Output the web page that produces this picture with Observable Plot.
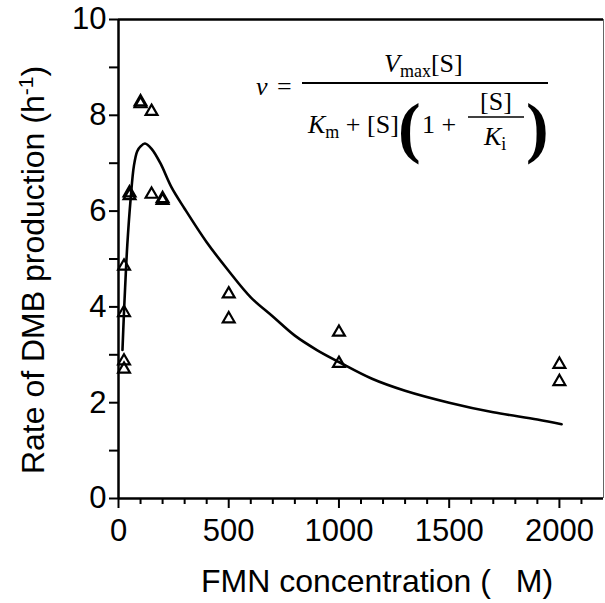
<!DOCTYPE html>
<html><head><meta charset="utf-8">
<script src="https://cdn.jsdelivr.net/npm/d3@7"></script>
<script src="https://cdn.jsdelivr.net/npm/@observablehq/plot@0.6"></script>
<style>
body{margin:0;background:#fff;}
#wrap{position:relative;width:605px;height:603px;overflow:hidden;}
#wrap svg{position:absolute;left:0;top:0;}
</style></head><body><div id="wrap"></div>
<script>
// observed rates (h^-1) vs FMN concentration (uM)
const obsX = [25,25,25,25,50,50,100,100,150,150,200,200,500,500,1000,1000,2000,2000];
const obsY = [2.7,2.87,3.88,4.85,6.32,6.38,8.24,8.28,8.08,6.35,6.22,6.26,4.27,3.75,3.47,2.82,2.8,2.44];
// fitted curve
const fitX = [18,25,30,40,55,70,85,100,120,150,190,240,300,400,500,600,700,800,900,1000,1150,1300,1500,1700,1900,2010];
const fitY = [3.1,3.9,4.4,5.3,6.25,6.95,7.25,7.35,7.41,7.3,7.0,6.5,6.05,5.35,4.75,4.2,3.8,3.4,3.1,2.85,2.5,2.25,2.0,1.8,1.65,1.55];
const xMajor = [0,500,1000,1500,2000];
const xMinor = [100,200,300,400,600,700,800,900,1100,1200,1300,1400,1600,1700,1800,1900,2100];
const yMajor = [0,2,4,6,8,10];
const yMinor = [1,3,5,7,9];
const xLabel = "FMN concentration (\u2002 M)";
const yLabelMain = "Rate of DMB production (h";
const yLabelSup = "-1";

const obs = obsX.map((x,i)=>({x, y:obsY[i]}));
const fit = fitX.map((x,i)=>({x, y:fitY[i]}));

const chart = Plot.plot({
  width:605, height:603,
  marginLeft:118, marginRight:2, marginTop:19, marginBottom:105,
  x:{domain:[0,2200]},
  y:{domain:[0,10]},
  style:{fontFamily:"'Liberation Sans', Arial, sans-serif", fontSize:"31px", color:"#000", background:"#fff", overflow:"visible"},
  marks:[
    Plot.axisX(xMajor,{tickSize:10, tickPadding:10, strokeWidth:2, tickFormat:d=>String(d), label:null, fontSize:31}),
    Plot.axisX(xMinor,{tickSize:6, strokeWidth:2, text:null, label:null}),
    Plot.axisY(yMajor,{tickSize:9, tickPadding:3, strokeWidth:2, tickFormat:d=>String(d), label:null, fontSize:31}),
    Plot.axisY(yMinor,{tickSize:9, strokeWidth:2, text:null, label:null}),
    Plot.ruleY([10],{stroke:"#000", strokeWidth:2.5}),
    Plot.ruleX([2200],{stroke:"#666", strokeWidth:1}),
    Plot.ruleX([0],{stroke:"#000", strokeWidth:2.5}),
    Plot.ruleY([0],{stroke:"#000", strokeWidth:2.5}),
    Plot.line(fit,{x:"x", y:"y", stroke:"#000", strokeWidth:2.6, curve:"catmull-rom"}),
    Plot.dot(obs,{x:"x", y:"y", symbol:"triangle", r:4.4, stroke:"#000", strokeWidth:2.2, fill:"none"})
  ]
});
const wrap = document.getElementById("wrap");
wrap.appendChild(chart);

// annotations overlay (axis titles + equation)
const ns = "http://www.w3.org/2000/svg";
const ov = document.createElementNS(ns,"svg");
ov.setAttribute("width",605); ov.setAttribute("height",603);
ov.innerHTML = `
<g font-family="'Liberation Sans', Arial, sans-serif" font-size="32" fill="#000">
  <text x="377" y="592" text-anchor="middle">${xLabel}</text>
  <text transform="translate(44,270) rotate(-90)" text-anchor="middle">${yLabelMain}<tspan dy="-11" font-size="21">${yLabelSup}</tspan><tspan dy="11">)</tspan></text>
</g>
<g font-family="'Liberation Serif', 'Times New Roman', serif" fill="#000" font-size="26">
  <text x="256" y="95" font-style="italic">v</text>
  <text x="277" y="95">=</text>
  <line x1="302" x2="548" y1="83" y2="83" stroke="#000" stroke-width="2"/>
  <text x="384" y="72"><tspan font-style="italic">V</tspan><tspan font-size="18" dy="5">max</tspan><tspan dy="-5">[S]</tspan></text>
  <text x="308" y="133"><tspan font-style="italic">K</tspan><tspan font-size="18" dy="5">m</tspan><tspan dy="-5"> + [S]</tspan></text>
  <text x="398" y="150" font-size="68" font-weight="bold">(</text>
  <text x="422" y="133">1 +</text>
  <text x="496" y="110" text-anchor="middle">[S]</text>
  <line x1="468" x2="524" y1="117" y2="117" stroke="#000" stroke-width="1.5"/>
  <text x="484" y="145"><tspan font-style="italic">K</tspan><tspan font-size="18" dy="5">i</tspan></text>
  <text x="526" y="150" font-size="68" font-weight="bold">)</text>
</g>`;
wrap.appendChild(ov);
</script>
</body></html>
